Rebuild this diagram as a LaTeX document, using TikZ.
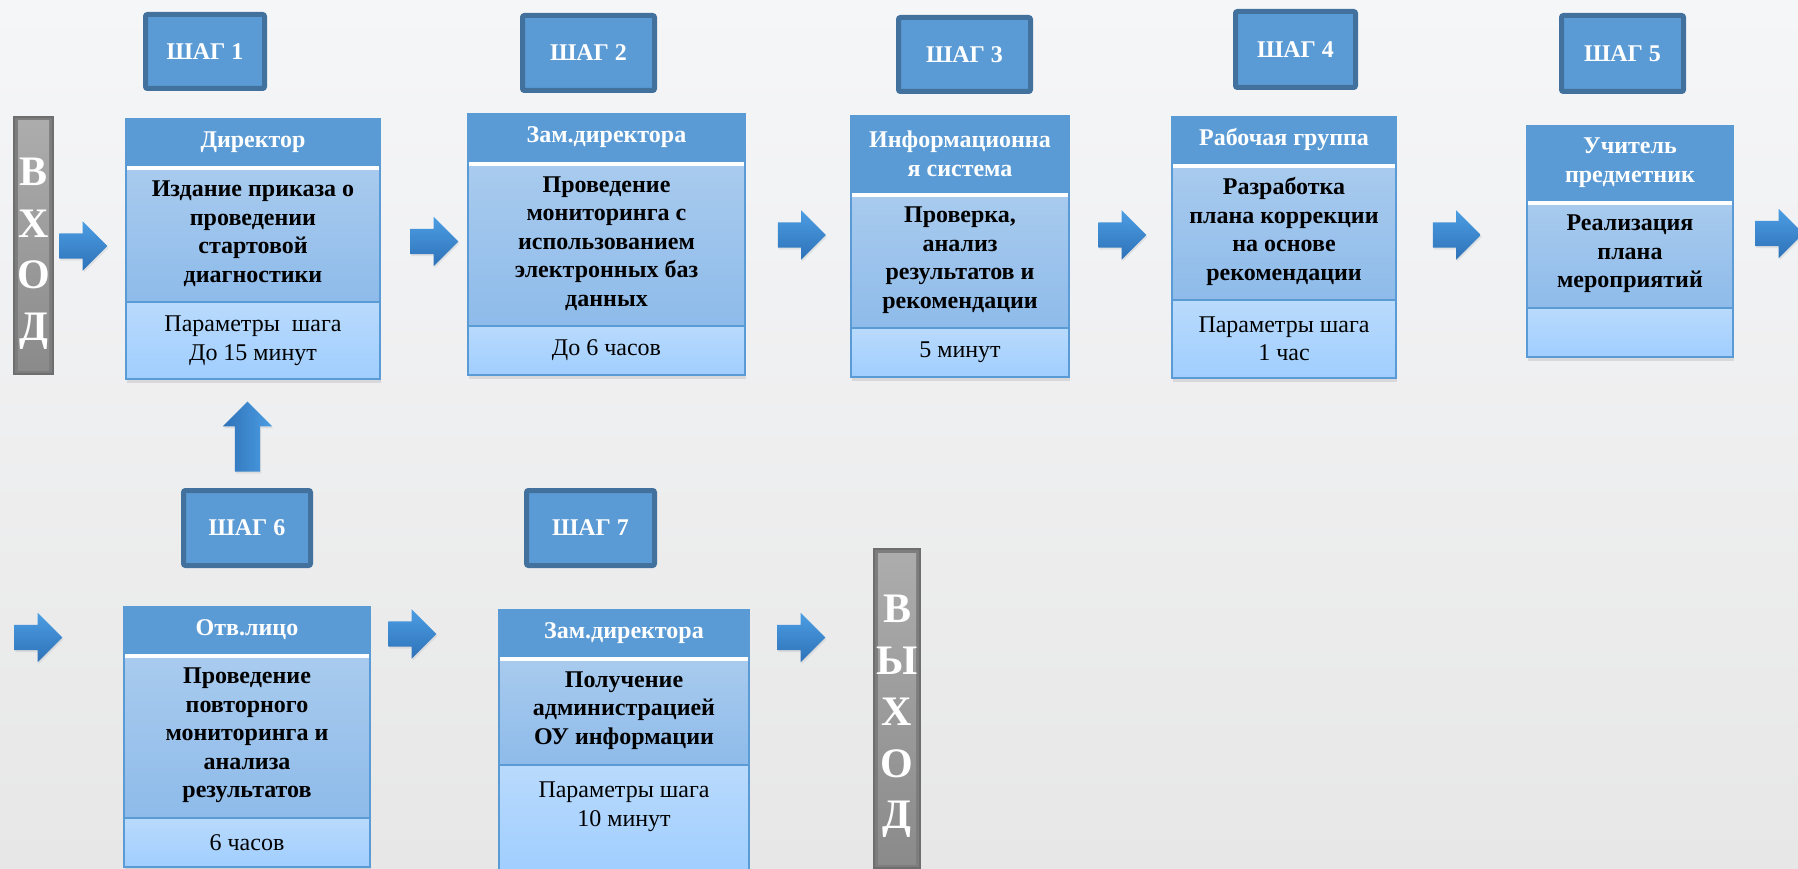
\documentclass[tikz,border=0pt]{standalone}
\usepackage{fontspec}
\setmainfont{Liberation Serif}
\usetikzlibrary{shapes, arrows, positioning, shadows}
\definecolor{HeadBlue}{HTML}{5B9BD5}
\definecolor{StepEdge}{HTML}{41719C}
\definecolor{BodyTop}{HTML}{A9CBEE}
\definecolor{BodyBot}{HTML}{8EBBEA}
\definecolor{ParTop}{HTML}{B9DAFC}
\definecolor{ParBot}{HTML}{A0CEFF}
\definecolor{ArrTop}{HTML}{4C9DE3}
\definecolor{ArrBot}{HTML}{2E72B8}
\definecolor{BgTop}{HTML}{F5F6F8}
\definecolor{BgBot}{HTML}{E7E7E7}
\definecolor{BarEdge}{HTML}{6E6E6E}
\definecolor{BarLight}{HTML}{ADADAD}
\definecolor{BarDark}{HTML}{8A8A8A}

\begin{document}
\begin{tikzpicture} [x=1pt, y=-1pt,
			every node/.style={font=\fontsize{24}{28.5}\selectfont,align=center,inner sep=0,outer sep=0},
			stepbox/.style={draw=StepEdge,line width=5pt,fill=HeadBlue,rounded corners=2pt,text=white,font=\fontsize{24}{28.5}\selectfont\bfseries},
			head/.style={anchor=north west,draw=HeadBlue,line width=1.5pt,fill=HeadBlue,text=white,font=\fontsize{24}{29}\selectfont\bfseries,drop shadow={shadow xshift=1pt,shadow yshift=-4pt,opacity=0.15}},
			body/.style={anchor=north west,draw=HeadBlue,line width=1.5pt,top color=BodyTop,bottom color=BodyBot,font=\fontsize{24}{28.5}\selectfont\bfseries,drop shadow={shadow xshift=1pt,shadow yshift=-4pt,opacity=0.15},
				path picture={\fill[white] (path picture bounding box.north west) rectangle ([yshift=-5pt]path picture bounding box.north east);}},
			param/.style={anchor=north west,draw=HeadBlue,line width=1.5pt,top color=ParTop,bottom color=ParBot,drop shadow={shadow xshift=1pt,shadow yshift=-4pt,opacity=0.2}},
			bar/.style={draw=BarEdge,line width=1.5pt,fill=BarEdge!90,
				path picture={\shade[top color=BarLight,bottom color=BarDark] ([shift={(4pt,-4pt)}]path picture bounding box.north west) rectangle ([shift={(-4pt,4pt)}]path picture bounding box.south east);}},
			bartext/.style={text=white,font=\fontsize{42}{51.5}\selectfont\bfseries},
			blockarrow/.style={single arrow,single arrow head extend=12pt,inner sep=12.5pt,minimum height=48pt,top color=ArrTop,bottom color=ArrBot,draw=none,
				drop shadow={shadow xshift=1pt,shadow yshift=-2pt,opacity=0.15}}
		]
			\path[use as bounding box, clip] (0,0) rectangle (1798,869);
			\shade[top color=BgTop, bottom color=BgBot] (0,0) rectangle (1798,869);

			% steps
			\node at (205,51.5) [stepbox, minimum width=119pt, minimum height=74pt] (step1) {ШАГ 1};
			\node at (588.5,53) [stepbox, minimum width=132pt, minimum height=75pt] (step2) {ШАГ 2};
			\node at (964.5,54.5) [stepbox, minimum width=132pt, minimum height=74pt] (step3) {ШАГ 3};
			\node at (1295.5,49.5) [stepbox, minimum width=120pt, minimum height=76pt] (step4) {ШАГ 4};
			\node at (1622.5,53.5) [stepbox, minimum width=122pt, minimum height=76pt] (step5) {ШАГ 5};
			\node at (247,528) [stepbox, minimum width=127pt, minimum height=75pt] (step6) {ШАГ 6};
			\node at (590.5,528) [stepbox, minimum width=128pt, minimum height=75pt] (step7) {ШАГ 7};

			% entry and exit
			\node at (33.5,245.5) [bar, minimum width=39pt, minimum height=257pt] (inBar) {};
			\node at ([yshift=-8pt]inBar.center) [bartext] (inText) {В\\Х\\О\\Д};
			\node at (897,708.5) [bar, minimum width=46pt, minimum height=319pt] (outBar) {};
			\node at ([yshift=-8pt]outBar.center) [bartext] (outText) {В\\Ы\\Х\\О\\Д};

			% step 1
			\node at (126,119) [head, minimum width=254pt, minimum height=46pt] (dirHead) {Директор};
			\node at (dirHead.south west) [body, minimum width=254pt, minimum height=137pt] (dirBody) {Издание приказа о\\проведении\\стартовой\\диагностики};
			\node at (dirBody.south west) [param, minimum width=254pt, minimum height=77pt] (dirPar) {Параметры~~шага\\До 15 минут};

			% step 2
			\node at (468,114) [head, minimum width=277pt, minimum height=47pt] (zamHead) {Зам.директора};
			\node at (zamHead.south west) [body, minimum width=277pt, minimum height=165pt] (zamBody) {Проведение\\мониторинга с\\использованием\\электронных баз\\данных};
			\node at (zamBody.south west) [param, minimum width=277pt, minimum height=49pt] (zamPar) {До 6 часов};

			% step 3
			\node at (851,116) [head, minimum width=218pt, minimum height=76pt] (infoHead) {Информационна\\я система};
			\node at (infoHead.south west) [body, minimum width=218pt, minimum height=136pt] (infoBody) {Проверка,\\анализ\\результатов и\\рекомендации};
			\node at (infoBody.south west) [param, minimum width=218pt, minimum height=49pt] (infoPar) {5 минут};

			% step 4
			\node at (1172,117) [head, minimum width=224pt, minimum height=46pt] (grpHead) {Рабочая группа};
			\node at (grpHead.south west) [body, minimum width=224pt, minimum height=137pt] (grpBody) {Разработка\\плана коррекции\\на основе\\рекомендации};
			\node at (grpBody.south west) [param, minimum width=224pt, minimum height=78pt] (grpPar) {Параметры шага\\1 час};

			% step 5
			\node at (1527,126) [head, minimum width=206pt, minimum height=74pt] (tchHead) {Учитель\\предметник};
			\node at (tchHead.south west) [body, minimum width=206pt, minimum height=108pt] (tchBody) {Реализация\\плана\\мероприятий};
			\node at (tchBody.south west) [param, minimum width=206pt, minimum height=49pt] (tchPar) {};

			% step 6
			\node at (124,607) [head, minimum width=246pt, minimum height=46pt] (respHead) {Отв.лицо};
			\node at (respHead.south west) [body, minimum width=246pt, minimum height=165pt] (respBody) {Проведение\\повторного\\мониторинга и\\анализа\\результатов};
			\node at (respBody.south west) [param, minimum width=246pt, minimum height=49pt] (respPar) {6 часов};

			% step 7
			\node at (499,610) [head, minimum width=250pt, minimum height=46pt] (admHead) {Зам.директора};
			\node at (admHead.south west) [body, minimum width=250pt, minimum height=109pt] (admBody) {Получение\\администрацией\\ОУ информации};
			\node at (admBody.south west) [param, minimum width=250pt, minimum height=107pt] (admPar) {Параметры шага\\10 минут\\~};

			% arrows
			\node at (77,246) [blockarrow] (arrIn) {};
			\node at (428,241.5) [blockarrow] (arr12) {};
			\node at (795.5,235) [blockarrow] (arr23) {};
			\node at (1116,235) [blockarrow] (arr34) {};
			\node at (1450.5,235) [blockarrow] (arr45) {};
			\node at (1773,233.5) [blockarrow] (arr5) {};
			\node at (32,637.5) [blockarrow] (arr6) {};
			\node at (406,634) [blockarrow] (arr67) {};
			\node at (795,637.5) [blockarrow] (arrOut) {};
			\node at (247.5,443) [blockarrow, shape border rotate=90, minimum height=70pt, left color=ArrBot, right color=ArrTop] (arrUp) {};
		\end{tikzpicture}
\end{document}
